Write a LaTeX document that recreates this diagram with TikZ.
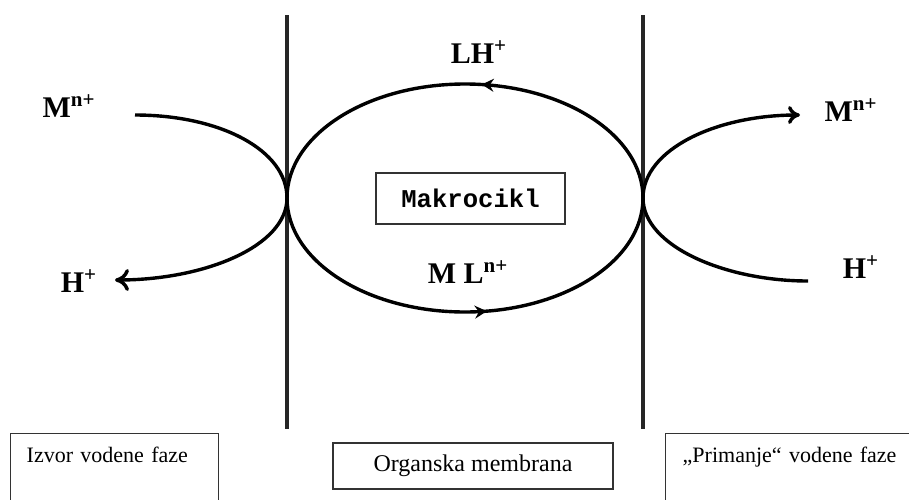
\documentclass[tikz,border=0pt]{standalone}
\usepackage{fontspec}
\setmainfont{Liberation Serif}
\setmonofont{Liberation Mono}
\usetikzlibrary{positioning,arrows.meta,decorations.markings}

\begin{document}
\begin{tikzpicture} [x=0.5pt, y=-0.5pt, ion/.style={font=\fontsize{15}{17}\selectfont\bfseries, inner sep=0pt}, flow/.style={line width=1.7pt}, wall/.style={line width=1.7pt, black!85}, phase/.style={rectangle, draw=black!80, line width=0.7pt, align=left, anchor=north west, font=\fontsize{11}{13}\selectfont, inner xsep=8pt, inner ysep=6.5pt, text depth=25pt}, carrier/.style={postaction={decorate}, decoration={markings, mark=at position #1 with {\arrow{Stealth[length=6pt,width=6.5pt,inset=2pt]}}}}]
  \useasboundingbox (0,0) rectangle (909,499);
  \clip (0,0) rectangle (909,499);
  %% Membranes
  \draw [wall] (287,15) -- (287,429);
  \draw [wall] (643,15) -- (643,429);
  \coordinate (lc) at (287,198);
  \coordinate (rc) at (643,198);
  %% Ions
  \node [ion] (mleft) at (69,106) {M\textsuperscript{n+}};
  \node [ion] (hleft) at (79,281) {H\textsuperscript{+}};
  \node [ion] (mright) at (851,110) {M\textsuperscript{n+}};
  \node [ion] (hright) at (861,267) {H\textsuperscript{+}};
  \node [ion] (lh) at (479,52) {LH\textsuperscript{+}};
  \node [ion] (ml) at (468,272) {M L\textsuperscript{n+}};
  \node [rectangle, draw=black!80, line width=0.7pt, minimum width=94.5pt, minimum height=25.5pt, font=\fontsize{12.8}{14}\selectfont\ttfamily\bfseries] (makro) at (470.5,198.5) {Makrocikl};
  %% Phases
  \node [phase, text width=88pt] (izvor) at (10,433) {Izvor vodene faze};
  \node [rectangle, draw=black!80, line width=0.7pt, minimum width=140pt, minimum height=23pt, font=\fontsize{12}{14}\selectfont] (organ) at (473,466) {Organska membrana};
  \node [phase, inner xsep=8.5pt, text width=113pt] (primanje) at (665,433) {„Primanje“ vodene faze};
  % Draw edges
  \coordinate (lin) at (135,115);
  \coordinate (lout) at (115,280);
  \coordinate (rout) at (800,115);
  \coordinate (rin) at (808,281);
  \draw [flow, -{To[length=7pt,width=11pt]}] (lin) .. controls (220,115) and (287,150) .. (lc) .. controls (287,246) and (205,280) .. (lout);
  \draw [flow, -{To[length=6pt,width=9pt]}] (rc) .. controls (643,150) and (715,115) .. (rout);
  \draw [flow] (rc) .. controls (643,246) and (725,281) .. (rin);
  \draw [flow, carrier=0.464] (rc) arc [start angle=0, end angle=-180, x radius=178, y radius=114];
  \draw [flow, carrier=0.547] (lc) arc [start angle=180, end angle=0, x radius=178, y radius=114];
\end{tikzpicture}
\end{document}
